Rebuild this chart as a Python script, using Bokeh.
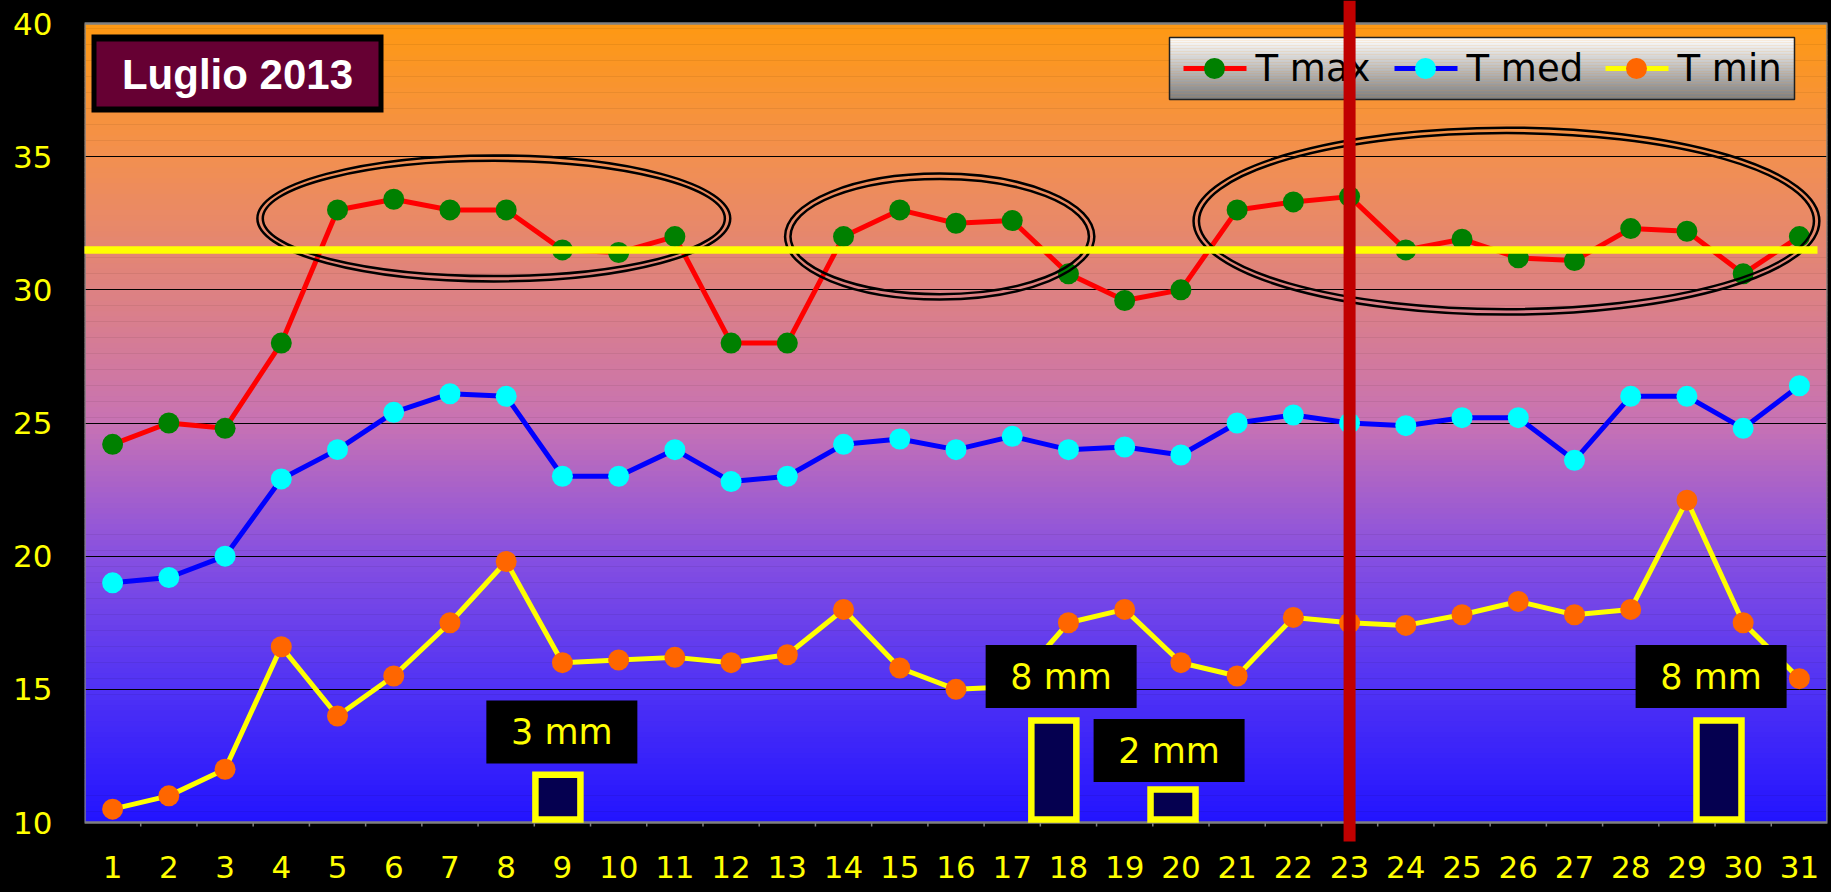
import numpy as np
from bokeh.plotting import figure
from bokeh.models import Range1d, FixedTicker
from bokeh.core.properties import value
from bokeh.embed import file_html
from bokeh.resources import INLINE

# ---------------- data ----------------
days = list(range(1, 32))
t_max = [24.2, 25.0, 24.8, 28.0, 33.0, 33.4, 33.0, 33.0, 31.5, 31.4, 32.0, 28.0, 28.0, 32.0, 33.0, 32.5,
         32.6, 30.6, 29.6, 30.0, 33.0, 33.3, 33.5, 31.5, 31.9, 31.2, 31.1, 32.3, 32.2, 30.6, 32.0]
t_med = [19.0, 19.2, 20.0, 22.9, 24.0, 25.4, 26.1, 26.0, 23.0, 23.0, 24.0, 22.8, 23.0, 24.2, 24.4, 24.0,
         24.5, 24.0, 24.1, 23.8, 25.0, 25.3, 25.0, 24.9, 25.2, 25.2, 23.6, 26.0, 26.0, 24.8, 26.4]
t_min = [10.5, 11.0, 12.0, 16.6, 14.0, 15.5, 17.5, 19.8, 16.0, 16.1, 16.2, 16.0, 16.3, 18.0, 15.8, 15.0,
         15.1, 17.5, 18.0, 16.0, 15.5, 17.7, 17.5, 17.4, 17.8, 18.3, 17.8, 18.0, 22.1, 17.5, 15.4]
y_ticks = [10, 15, 20, 25, 30, 35, 40]
series_names = ["T max", "T med", "T min"]

# rain: label value (mm), bar position (day scale) and bar top (on the temperature scale)
rain_mm = [3, 8, 2, 8]
rain_x = [8.92, 17.74, 19.86, 29.57]
rain_top = [11.91, 13.94, 11.35, 13.94]
rain_label_x = [8.99, 17.87, 19.79, 29.43]
rain_label_y = [13.40, 15.48, 12.70, 15.48]

soglia = 31.5      # horizontal yellow reference line
giorno_oggi = 23   # vertical red line

# highlighted periods (ellipses)
ell_x = [7.78, 15.71, 25.79]
ell_y = [32.68, 32.00, 32.58]
ell_w = [8.41, 5.50, 11.13]
ell_h = [4.73, 4.73, 7.02]

title_text = "Luglio 2013"

# ---------------- geometry helpers (page pixels -> data) ----------------
PXX = 1743 / 31
PXY = 799 / 30
def X(px):
    return (px - 84) / PXX + 0.5
def Y(py):
    return 40 - (py - 23) / PXY

p = figure(width=1831, height=892, x_range=Range1d(0.5, 31.5), y_range=Range1d(Y(849), Y(0)),
           output_backend="svg", toolbar_location=None,
           min_border_left=84, min_border_right=4, min_border_top=0, min_border_bottom=43,
           background_fill_color="black", border_fill_color="black")
p.outline_line_color = None
p.styles = {"background-color": "black"}

# axes
for ax in list(p.xaxis) + list(p.yaxis):
    ax.axis_line_color = None
    ax.major_tick_line_color = None
    ax.minor_tick_line_color = None
    ax.major_tick_out = 0
    ax.major_tick_in = 0
    ax.minor_tick_out = 0
    ax.minor_tick_in = 0
    ax.major_label_text_color = "#FFFF00"
    ax.major_label_text_font = "DejaVu Sans"
    ax.major_label_text_font_size = "31px"
p.xaxis.ticker = FixedTicker(ticks=days)
p.xaxis.major_label_standoff = 6
p.yaxis.ticker = FixedTicker(ticks=y_ticks)
p.yaxis.major_label_standoff = 32
p.xgrid.visible = False
p.ygrid.ticker = FixedTicker(ticks=y_ticks[1:-1])
p.ygrid.grid_line_color = "black"
p.ygrid.grid_line_width = 1

# gradient plot area
stops_v = [10, 15, 20, 25, 30, 35, 40]
stops_c = [(35, 20, 255), (80, 50, 245), (135, 80, 225), (200, 115, 180), (222, 130, 130), (243, 144, 80), (255, 153, 18)]
n = 150
edges = np.linspace(10, 40, n + 1)
mids = (edges[:-1] + edges[1:]) / 2
cols = []
for m in mids:
    r = np.interp(m, stops_v, [c[0] for c in stops_c])
    g = np.interp(m, stops_v, [c[1] for c in stops_c])
    b = np.interp(m, stops_v, [c[2] for c in stops_c])
    cols.append("#%02x%02x%02x" % (int(r), int(g), int(b)))
p.quad(left=0.5, right=31.5, bottom=edges[:-1], top=np.minimum(edges[1:] + 0.02, 40), fill_color=cols,
       line_color=None, level="image")

# frame border and small x ticks
p.quad(left=0.5, right=31.5, bottom=10, top=40, fill_color=None, line_color="#808080", line_width=2.5)
bnd = [0.5 + k for k in range(1, 31)]
p.segment(x0=bnd, y0=[10] * len(bnd), x1=bnd, y1=[Y(826)] * len(bnd), line_color="#808080", line_width=1.5)

# rain bars
p.quad(left=[x - 22.5 / PXX for x in rain_x], right=[x + 22.5 / PXX for x in rain_x],
       bottom=10 + 3 / PXY, top=[t - 3 / PXY for t in rain_top],
       fill_color="#050050", line_color="#FFFF00", line_width=6.5, line_join="miter")

# series
styles = [(t_max, "#FF0000", "#008000"), (t_med, "#0000FF", "#00FFFF"), (t_min, "#FFFF00", "#FF6600")]
for vals, lc, mc in styles:
    p.line(days, vals, line_color=lc, line_width=5)
    p.scatter(days, vals, size=21, fill_color=mc, line_color=None)

# double ellipses
gap_x = 2 * 5.4 / PXX
gap_y = 2 * 5.4 / PXY
p.ellipse(x=ell_x, y=ell_y, width=ell_w, height=ell_h, fill_color=None, line_color="black", line_width=2.5)
p.ellipse(x=ell_x, y=ell_y, width=[w - gap_x for w in ell_w], height=[h - gap_y for h in ell_h],
          fill_color=None, line_color="black", line_width=2.5)

# legend (drawn)
lg_top, lg_bot = Y(37), Y(99)
nb = 40
le = np.linspace(lg_top, lg_bot, nb + 1)
lcols = []
for i in range(nb):
    f = (i + 0.5) / nb
    v = int(255 - f * (255 - 125))
    lcols.append("#%02x%02x%02x" % (v, v, v))
p.quad(left=X(1169), right=X(1794), top=le[:-1], bottom=le[1:] - 0.01, fill_color=lcols, line_color=None)
p.quad(left=X(1169), right=X(1794), top=lg_top, bottom=lg_bot, fill_color=None, line_color="#202020", line_width=1.5)
for i, (name, (vals, lc, mc)) in enumerate(zip(series_names, styles)):
    x0 = 1183 + 211 * i
    p.segment(x0=[X(x0)], y0=[Y(68)], x1=[X(x0 + 63)], y1=[Y(68)], line_color=lc, line_width=5)
    p.scatter([X(x0 + 31)], [Y(68)], size=21, fill_color=mc, line_color=None)
    p.text(x=[X(x0 + 72)], y=[Y(68)], text=[name], text_font=value("DejaVu Sans"), text_font_size="37px",
           text_color="black", text_align="left", text_baseline="middle")

# title box
p.rect(x=[X(237)], y=[Y(73)], width=292, height=78, width_units="screen", height_units="screen",
       fill_color="black", line_color=None)
p.rect(x=[X(237)], y=[Y(73.5)], width=282, height=65, width_units="screen", height_units="screen",
       fill_color="#660033", line_color=None)
p.text(x=[X(237)], y=[Y(74)], text=[title_text], text_font=value("Liberation Sans"), text_font_style="bold",
       text_font_size="42px", text_color="white", text_align="center", text_baseline="middle")

# rain labels
p.rect(x=rain_label_x, y=rain_label_y, width=151, height=63, width_units="screen", height_units="screen",
       fill_color="black", line_color=None)
p.text(x=rain_label_x, y=rain_label_y, text=["%d mm" % v for v in rain_mm], text_font=value("DejaVu Sans"),
       text_font_size="35px", text_color="#FFFF00", text_align="center", text_baseline="middle")

# reference lines
p.segment(x0=[0.3], y0=[soglia], x1=[X(1817)], y1=[soglia], line_color="#FFFF00", line_width=7.5)
p.segment(x0=[giorno_oggi], y0=[Y(841)], x1=[giorno_oggi], y1=[Y(0)], line_color="#C00000", line_width=12)

open("out.html", "w").write(file_html(p, INLINE))
